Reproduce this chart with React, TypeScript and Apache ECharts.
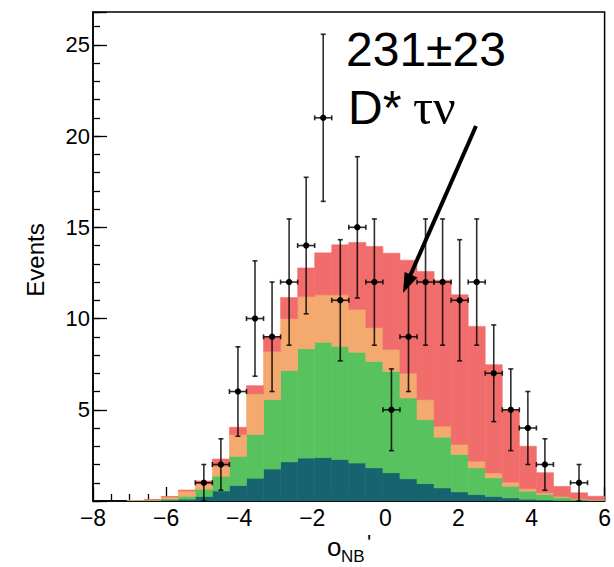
import React, { useEffect, useRef } from "react";
import * as echarts from "echarts";

// Histogram binning of o_NB'
const X_MIN = -8;
const X_MAX = 6;
const N_BINS = 30;

// Per-bin contributions of each stacked component (bottom to top)
const tealComp = [0, 0, 0.01, 0.02, 0.05, 0.1, 0.25, 0.55, 0.85, 1.25, 1.75, 2.15, 2.35, 2.38, 2.28, 2.08, 1.82, 1.55, 1.22, 0.95, 0.72, 0.5, 0.35, 0.25, 0.17, 0.1, 0.06, 0.03, 0.02, 0.01];
const greenComp = [0, 0, 0.01, 0.03, 0.07, 0.16, 0.4, 0.81, 1.6, 2.39, 3.81, 5.0, 6.0, 6.32, 6.2, 6.07, 5.83, 5.55, 4.43, 3.51, 2.78, 2.05, 1.47, 1.02, 0.64, 0.44, 0.3, 0.17, 0.08, 0.04];
const orangeComp = [0, 0, 0.01, 0.02, 0.1, 0.28, 0.3, 0.54, 1.19, 2.23, 2.64, 2.85, 2.85, 2.6, 2.82, 2.35, 1.85, 1.2, 1.35, 1.09, 0.6, 0.55, 0.36, 0.27, 0.22, 0.13, 0.09, 0.05, 0.02, 0.01];
const redComp = [0, 0, 0, 0.01, 0.03, 0.06, 0.15, 0.4, 0.4, 0.45, 0.8, 1.15, 1.57, 2.3, 2.74, 3.67, 4.45, 5.28, 6.2, 7.03, 8.0, 8.2, 7.39, 5.93, 3.97, 2.33, 1.1, 0.55, 0.33, 0.2];

// Observed events per bin and their errors
const dataCounts = [0, 0, 0, 0, 0, 0, 1, 2, 6, 10, 9, 12, 14, 21, 11, 15, 12, 5, 9, 12, 12, 11, 12, 7, 5, 4, 2, 0, 1, 0];
const dataErrors = [0, 0, 0, 0, 0, 0, 1, 1.41, 2.45, 3.16, 3, 3.46, 3.74, 4.58, 3.32, 3.87, 3.46, 2.24, 3, 3.46, 3.46, 3.32, 3.46, 2.65, 2.24, 2, 1.41, 0, 1, 0];

const layerNames = ["bkg A", "bkg B", "bkg C", "D* τν"];
const layerColors = ["#17646e", "#58c25e", "#f4a96f", "#f16d6c"];

const SANS = "'Liberation Sans', Arial, Helvetica, sans-serif";
const SERIF = "'Liberation Serif', 'Times New Roman', serif";

export default function App() {
  const ref = useRef<HTMLDivElement>(null);

  useEffect(() => {
    if (!ref.current) return;
    const chart = echarts.init(ref.current, null, { renderer: "svg" });
    const w = (X_MAX - X_MIN) / N_BINS;
    const layers = [tealComp, greenComp, orangeComp, redComp];
    const cum = new Array(N_BINS).fill(0);

    const histSeries = layers.map((vals, li) => {
      const data = vals.map((v, k) => {
        const lo = X_MIN + k * w;
        const base = cum[k];
        cum[k] += v;
        return [lo, lo + w, base, cum[k]];
      });
      const color = layerColors[li];
      return {
        type: "custom",
        name: layerNames[li],
        silent: true,
        z: 2,
        clip: true,
        encode: { x: [0, 1], y: [2, 3] },
        data,
        renderItem: (params: any, api: any) => {
          const b = api.value(2);
          const t = api.value(3);
          if (t - b <= 0) return null;
          const p0 = api.coord([api.value(0), b]);
          const p1 = api.coord([api.value(1), t]);
          return {
            type: "rect",
            shape: { x: p0[0], y: p1[1], width: p1[0] - p0[0], height: p0[1] - p1[1] },
            style: { fill: color, stroke: color, lineWidth: 0.6 },
          };
        },
      };
    });

    const pts: number[][] = [];
    dataCounts.forEach((c, k) => {
      if (c > 0) pts.push([X_MIN + (k + 0.5) * w, c, dataErrors[k], w / 2]);
    });

    const errStroke = "rgba(0,0,0,0.82)";
    const dataSeries = {
      type: "custom",
      name: "Data",
      silent: true,
      z: 5,
      clip: false,
      encode: { x: 0, y: 1 },
      data: pts,
      renderItem: (params: any, api: any) => {
        const x = api.value(0);
        const y = api.value(1);
        const e = api.value(2);
        const hw = api.value(3);
        const c = api.coord([x, y]);
        const top = api.coord([x, y + e]);
        const bot = api.coord([x, Math.max(y - e, 0)]);
        const l = api.coord([x - hw, y]);
        const r = api.coord([x + hw, y]);
        const cap = 2.5;
        const ls = { stroke: errStroke, lineWidth: 1.6 };
        return {
          type: "group",
          children: [
            { type: "line", shape: { x1: c[0], y1: top[1], x2: c[0], y2: bot[1] }, style: ls },
            { type: "line", shape: { x1: c[0] - cap, y1: top[1], x2: c[0] + cap, y2: top[1] }, style: ls },
            { type: "line", shape: { x1: c[0] - cap, y1: bot[1], x2: c[0] + cap, y2: bot[1] }, style: ls },
            { type: "line", shape: { x1: l[0], y1: c[1], x2: r[0], y2: c[1] }, style: ls },
            { type: "line", shape: { x1: l[0], y1: c[1] - cap, x2: l[0], y2: c[1] + cap }, style: ls },
            { type: "line", shape: { x1: r[0], y1: c[1] - cap, x2: r[0], y2: c[1] + cap }, style: ls },
            { type: "circle", shape: { cx: c[0], cy: c[1], r: 3.2 }, style: { fill: "#000" } },
          ],
        };
      },
    };

    const axisLineStyle = { color: "#000", width: 1.5 };
    const tickStyle = { color: "#000", width: 1.3 };

    chart.setOption({
      animation: false,
      grid: {
        left: 93,
        right: 6,
        top: 12,
        bottom: 66,
        show: true,
        borderColor: "#000",
        borderWidth: 1.5,
        backgroundColor: "transparent",
      },
      xAxis: [
        {
          type: "value",
          min: X_MIN,
          max: X_MAX,
          interval: 2,
          axisLine: { show: true, onZero: false, lineStyle: axisLineStyle },
          axisTick: { show: true, inside: true, length: 14, lineStyle: tickStyle },
          minorTick: { show: true, splitNumber: 4, length: 7, lineStyle: tickStyle },
          splitLine: { show: false },
          axisLabel: {
            fontSize: 23,
            color: "#000",
            fontFamily: SANS,
            margin: 5,
            formatter: (v: number) => String(v).replace("-", "\u2212"),
          },
        },
      ],
      yAxis: [
        {
          type: "value",
          min: 0,
          max: 26.8,
          interval: 5,
          axisLine: { show: true, onZero: false, lineStyle: axisLineStyle },
          axisTick: { show: true, inside: true, length: 14, lineStyle: tickStyle },
          splitLine: { show: false },
          axisLabel: {
            fontSize: 22,
            color: "#000",
            fontFamily: SANS,
            margin: 3,
            formatter: (v: number) => (v > 0 && v % 5 === 0 ? String(v) : ""),
          },
        },
        {
          type: "value",
          min: 0,
          max: 26.8,
          interval: 1,
          position: "left",
          axisLine: { show: false, onZero: false },
          axisTick: { show: true, inside: true, length: 7, lineStyle: tickStyle },
          splitLine: { show: false },
          axisLabel: { show: false },
        },
      ],
      series: [...histSeries, dataSeries],
      graphic: [
        {
          type: "text",
          x: 35,
          y: 260,
          rotation: Math.PI / 2,
          style: { text: "Events", fontSize: 24, fontFamily: SANS, fill: "#000", align: "center", verticalAlign: "middle" },
        },
        {
          type: "text",
          x: 327,
          y: 547,
          style: { text: "o", fontSize: 26, fontFamily: SANS, fill: "#000", align: "left", verticalAlign: "middle" },
        },
        {
          type: "text",
          x: 341,
          y: 556,
          style: { text: "NB", fontSize: 17, fontFamily: SANS, fill: "#000", align: "left", verticalAlign: "middle" },
        },
        {
          type: "text",
          x: 367,
          y: 542,
          style: { text: "'", fontSize: 22, fontFamily: SANS, fill: "#000", align: "left", verticalAlign: "middle" },
        },
        {
          type: "text",
          x: 346,
          y: 49,
          style: { text: "231±23", fontSize: 48, fontFamily: SANS, fill: "#000", align: "left", verticalAlign: "middle" },
        },
        {
          type: "text",
          x: 348,
          y: 107,
          style: { text: "D*", fontSize: 48, fontFamily: SANS, fill: "#000", align: "left", verticalAlign: "middle" },
        },
        {
          type: "text",
          x: 413,
          y: 107,
          style: { text: "τν", fontSize: 50, fontFamily: SERIF, fill: "#000", align: "left", verticalAlign: "middle" },
        },
        {
          type: "line",
          shape: { x1: 476, y1: 126, x2: 410, y2: 276 },
          style: { stroke: "#000", lineWidth: 4 },
          z: 100,
        },
        {
          type: "polygon",
          shape: { points: [[403, 293], [417.4, 277.5], [404.6, 271.9]] },
          style: { fill: "#000" },
          z: 100,
        },
      ],
    });

    return () => {
      chart.dispose();
    };
  }, []);

  return (
    <div
      ref={ref}
      style={{ position: "absolute", left: 0, top: 0, width: 614, height: 567, background: "#fff" }}
    />
  );
}
